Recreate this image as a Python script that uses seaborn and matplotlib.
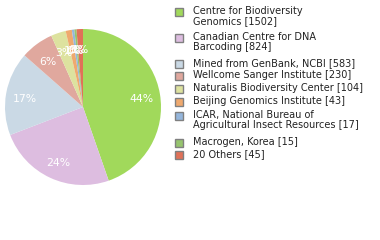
import matplotlib
matplotlib.use("Agg")
import matplotlib.pyplot as plt
import seaborn as sns
import numpy as np
from matplotlib.patches import Rectangle

sns.set_style("white")
plt.rcParams['font.family'] = ['DejaVu Sans']

labels = ["Centre for Biodiversity\nGenomics [1502]",
          "Canadian Centre for DNA\nBarcoding [824]",
          "Mined from GenBank, NCBI [583]",
          "Wellcome Sanger Institute [230]",
          "Naturalis Biodiversity Center [104]",
          "Beijing Genomics Institute [43]",
          "ICAR, National Bureau of\nAgricultural Insect Resources [17]",
          "Macrogen, Korea [15]",
          "20 Others [45]"]
values = [1502, 824, 583, 230, 104, 43, 17, 15, 45]
colors = ["#a1d95b", "#ddbde0", "#cad9e5", "#e0a89e", "#dde29f",
          "#efa96e", "#95b6dc", "#96c46e", "#e07158"]

fig = plt.figure(figsize=(3.8, 2.4), dpi=100)
ax = fig.add_axes([5/380, 55/240, 156/380, 156/240])
total = sum(values)
wedges, _ = ax.pie(values, colors=colors, startangle=90, counterclock=False,
                   wedgeprops=dict(linewidth=0), radius=1)
ang = 90.0
for v in values:
    theta = v / total * 360
    mid = np.deg2rad(ang - theta / 2)
    pct = int(v / total * 100)
    ax.text(0.76 * np.cos(mid), 0.76 * np.sin(mid) - 0.03, f"{pct}%", color="white",
            ha="center", va="center", fontsize=7.8)
    ang -= theta
ax.set_xlim(-1, 1)
ax.set_ylim(-1, 1)
ax.set_aspect("equal")
ax.axis("off")

# legend
ys = [12, 38, 64, 76, 89, 102, 116, 143, 155]
for lab, col, y in zip(labels, colors, ys):
    fig.patches.append(Rectangle((175/380, 1 - (y + 4)/240), 8/380, 8/240,
                                 transform=fig.transFigure, facecolor=col,
                                 edgecolor="#808080", linewidth=1))
    fig.text(193/380, 1 - (y - 6)/240, lab, fontsize=7.0, va="top", ha="left",
             color="#222222", linespacing=1.05)

fig.savefig("out.png", dpi=100)
